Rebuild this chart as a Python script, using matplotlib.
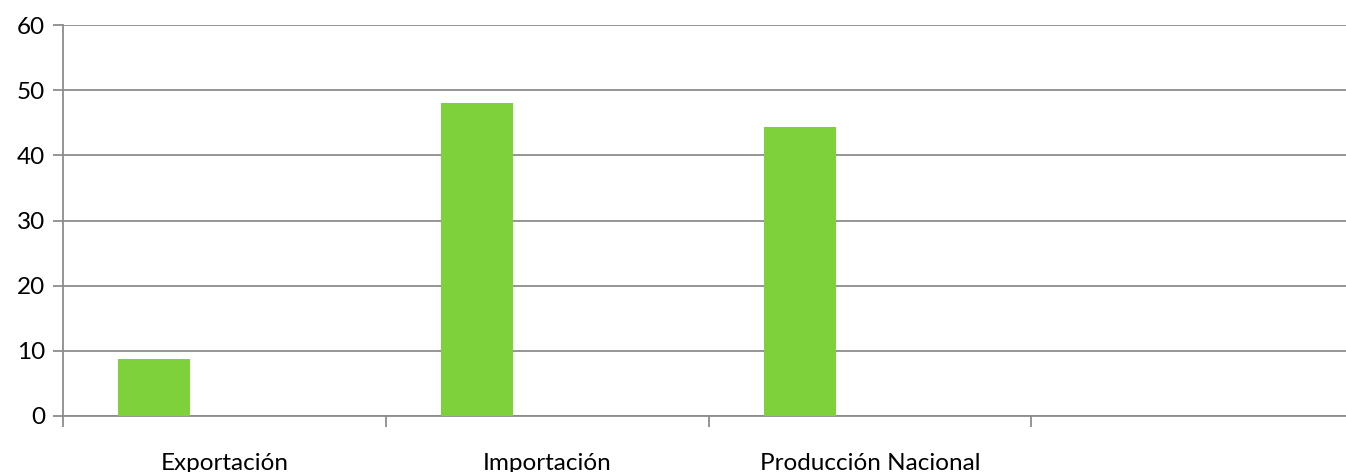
import numpy as np
import matplotlib.pyplot as plt
import matplotlib.transforms as mtransforms

plt.rcParams['font.family'] = ['Lato', 'DejaVu Sans']
plt.rcParams['font.size'] = 17.5

categories = ['Exportación', 'Importación', 'Producción Nacional', '']
values = [8.75, 48.1, 44.3, np.nan]
yticks = [0, 10, 20, 30, 40, 50, 60]

bar_color = '#7fd13b'
grid_color = '#8c8c8c'

fig = plt.figure(figsize=(13.46, 4.72), dpi=100)
# plot area runs a little past the right edge of the picture, as in the original
ax = fig.add_axes([63/1346, 1-416/472, 1291/1346, 391/472])

x = np.arange(len(categories))
ax.bar(x - 0.218, values, width=0.223, color=bar_color, zorder=3)

ax.set_xlim(-0.5, len(categories) - 0.5)
ax.set_ylim(0, 60)
ax.set_yticks(yticks)
ax.yaxis.grid(True, color=grid_color, linewidth=1.3, zorder=0)
ax.tick_params(axis='y', length=7, color=grid_color, width=1.3, pad=6)

# ticks on the slot boundaries, labels centred in each slot
ax.set_xticks(np.arange(len(categories)) - 0.5)
ax.set_xticklabels([])
ax.tick_params(axis='x', length=8, color=grid_color, width=1.3)
trans = mtransforms.blended_transform_factory(ax.transData, ax.transAxes)
for xi, lab in zip(x, categories):
    ax.text(xi, -54/391, lab, transform=trans, ha='center', va='baseline')

for s in ['top', 'right']:
    ax.spines[s].set_visible(False)
for s in ['left', 'bottom']:
    ax.spines[s].set_color(grid_color)
    ax.spines[s].set_linewidth(1.3)

fig.savefig('out.png', dpi=100)
